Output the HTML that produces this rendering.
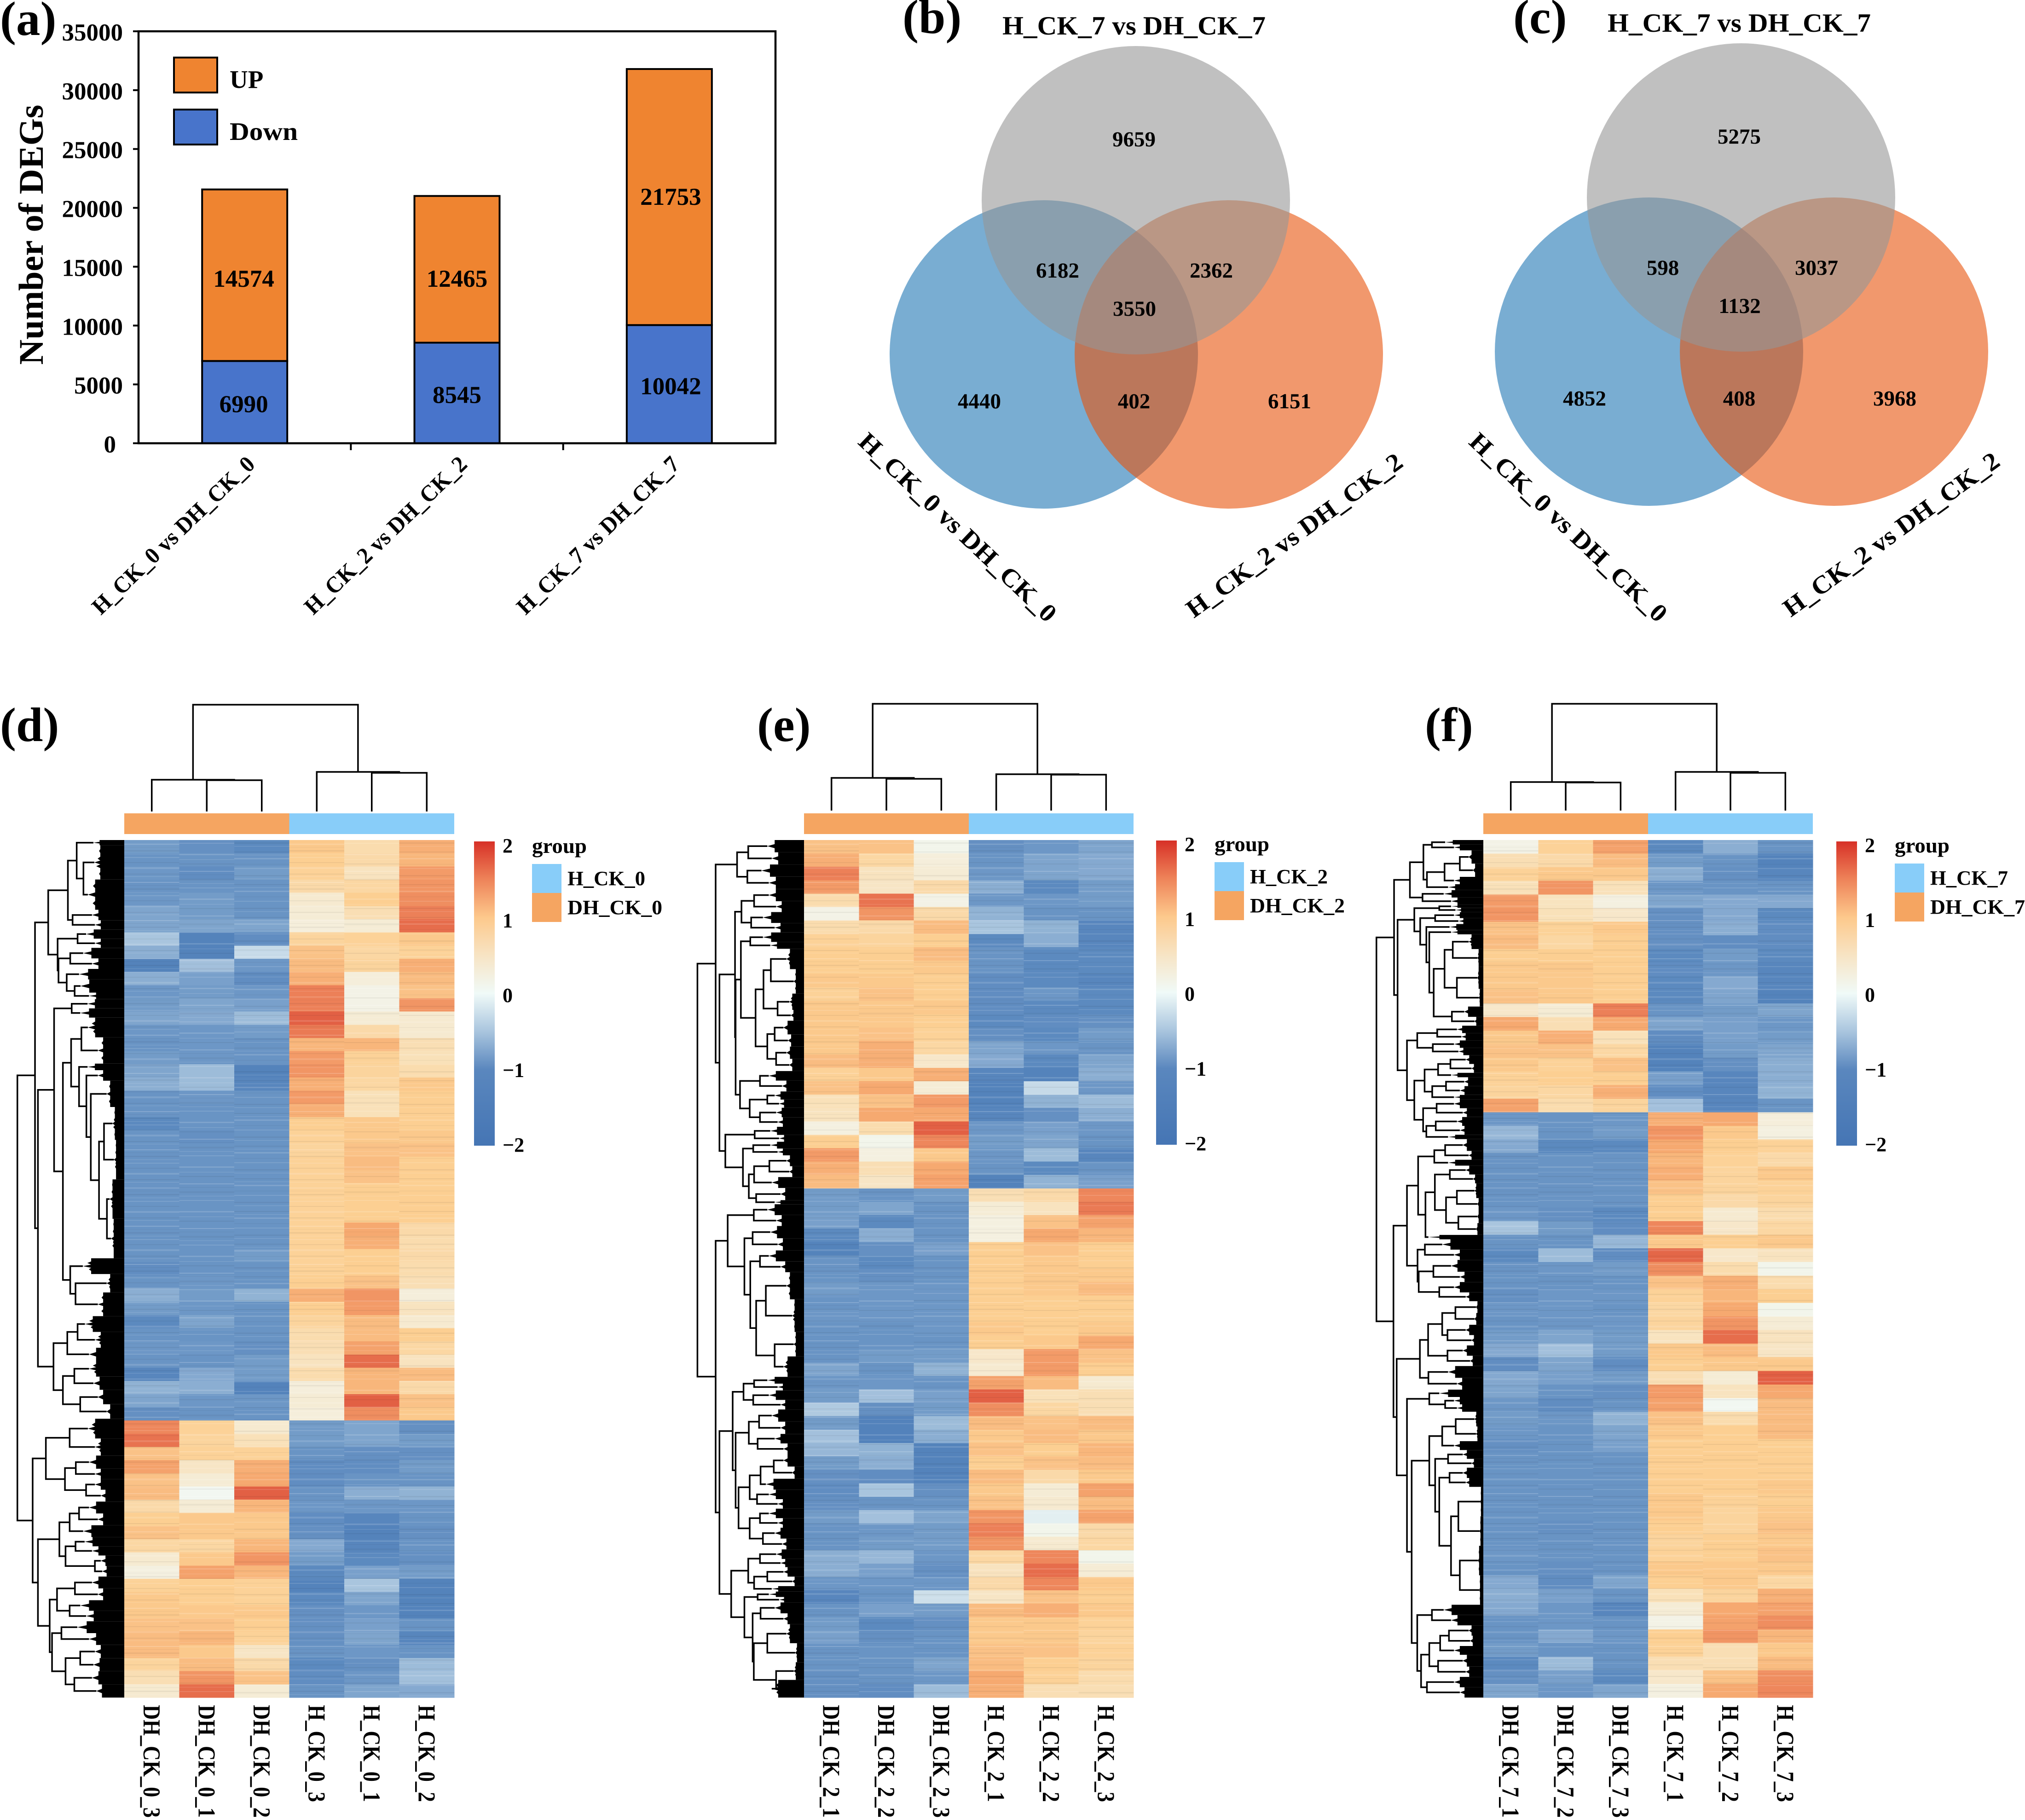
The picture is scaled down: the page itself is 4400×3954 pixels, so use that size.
<!DOCTYPE html>
<html lang="en">
<head>
<meta charset="utf-8">
<title>DEG bar chart, Venn diagrams and heatmaps</title>
<style>
html,body{margin:0;padding:0;background:#fff;}
svg{display:block;}
text{font-family:"Liberation Serif",serif;font-weight:bold;fill:#000;}
</style>
</head>
<body>
<svg id="figure" xmlns="http://www.w3.org/2000/svg" width="4400" height="3954" viewBox="0 0 4400 3954">
<defs>
<linearGradient id="cbar" x1="0" y1="0" x2="0" y2="1">
<stop offset="0" stop-color="#d73027"/><stop offset=".125" stop-color="#ee8359"/><stop offset=".25" stop-color="#fdc98c"/>
<stop offset=".375" stop-color="#f7e4c4"/><stop offset=".5" stop-color="#f0faf8"/><stop offset=".625" stop-color="#a9c5de"/>
<stop offset=".75" stop-color="#5a87be"/><stop offset="1" stop-color="#4575b4"/>
</linearGradient>
<pattern id="st0" width="10" height="83" patternUnits="userSpaceOnUse"><rect y="7" width="10" height="2" fill="#fff" opacity=".18"/><rect y="14" width="10" height="1" fill="#000" opacity=".05"/><rect y="21" width="10" height="3" fill="#000" opacity=".05"/><rect y="29" width="10" height="1" fill="#fff" opacity=".14"/><rect y="36" width="10" height="2" fill="#fff" opacity=".12"/><rect y="47" width="10" height="2" fill="#000" opacity=".05"/><rect y="58" width="10" height="4" fill="#fff" opacity=".12"/><rect y="72" width="10" height="2" fill="#000" opacity=".06"/><rect y="78" width="10" height="1" fill="#fff" opacity=".16"/></pattern>
<pattern id="st1" width="10" height="97" patternUnits="userSpaceOnUse"><rect y="12" width="10" height="3" fill="#fff" opacity=".14"/><rect y="24" width="10" height="1" fill="#fff" opacity=".16"/><rect y="33" width="10" height="2" fill="#000" opacity=".06"/><rect y="49" width="10" height="2" fill="#fff" opacity=".18"/><rect y="57" width="10" height="1" fill="#000" opacity=".06"/><rect y="66" width="10" height="4" fill="#000" opacity=".04"/><rect y="76" width="10" height="1" fill="#fff" opacity=".15"/><rect y="85" width="10" height="2" fill="#fff" opacity=".13"/></pattern>
<pattern id="st2" width="10" height="71" patternUnits="userSpaceOnUse"><rect y="4" width="10" height="2" fill="#000" opacity=".06"/><rect y="11" width="10" height="1" fill="#fff" opacity=".15"/><rect y="18" width="10" height="3" fill="#fff" opacity=".14"/><rect y="31" width="10" height="1" fill="#000" opacity=".06"/><rect y="40" width="10" height="2" fill="#fff" opacity=".12"/><rect y="55" width="10" height="3" fill="#000" opacity=".05"/><rect y="63" width="10" height="1" fill="#fff" opacity=".17"/></pattern>
</defs>
</svg>
<script>
// ---------- bar chart data ----------
const barCategories = ["H_CK_0 vs DH_CK_0", "H_CK_2 vs DH_CK_2", "H_CK_7 vs DH_CK_7"];
const upValues = [14574, 12465, 21753];
const downValues = [6990, 8545, 10042];
const yTickValues = [0, 5000, 10000, 15000, 20000, 25000, 30000, 35000];

// ---------- venn data: top, top+left, top+right, all, left, left+right, right ----------
const vennBCounts = [9659, 6182, 2362, 3550, 4440, 402, 6151];
const vennCCounts = [5275, 598, 3037, 1132, 4852, 408, 3968];

// ---------- heatmap (d) values, 65 rows ----------
const dColumns = ["DH_CK_0_3", "DH_CK_0_1", "DH_CK_0_2", "H_CK_0_3", "H_CK_0_1", "H_CK_0_2"];
const dV1 = [-.95,-1.05,-1,-1.05,-1,-.85,-.85,-.5,-.75,-1.3,-.75,-1,-.95,-.85,-1,-1.05,-.95,-.85,-.75,-1.05,-1.05,-1.2,-1.05,-1.05,-1.05,-1.05,-1.05,-1.05,-1.05,-1.05,-1.05,-1.05,-1.15,-1.05,-.75,-.95,-1.2,-1.05,-1,-1.05,-1.25,-.7,-.85,-1.1,1.45,1.6,1,1.25,1,1.05,.7,.9,1,.75,.35,.2,.85,.95,.95,1,1.05,1.05,.8,.6,.35];
const dV2 = [-1.1,-1.05,-1.15,-1.05,-.95,-.95,-.85,-1.3,-1.3,-.55,-.9,-.95,-.85,-.8,-1,-1,-1,-.6,-.6,-1,-1.05,-1.05,-1.1,-1.05,-1.05,-1.05,-1.05,-1.05,-1.05,-1.05,-1.05,-1.05,-1.05,-1,-.95,-1,-.85,-1.05,-1,-1.05,-.8,-.75,-1,-1.05,.85,.8,.85,.45,.3,.05,.3,.95,.95,.75,.95,1.25,.9,.9,.95,1,1.1,.95,1.05,1.35,1.65];
const dV3 = [-1.2,-1.05,-.95,-1.05,-1.05,-1.05,-.85,-1.15,-.3,-1,-1.15,-1,-.9,-.6,-.95,-1.05,-1.05,-1.3,-1.25,-1.05,-1.05,-1.05,-1.05,-1.05,-1.05,-1.05,-1.05,-1.05,-1.05,-1.05,-1.05,-.95,-1.05,-1.05,-.7,-1.05,-1.05,-1.05,-1.1,-.95,-.95,-1.3,-1,-1.05,.35,.55,.85,1.15,1.2,1.75,1.1,.95,.95,1.1,1.35,1.1,.85,.85,.95,.9,.85,.45,.7,1,.3];
const dV4 = [.95,.9,.85,.7,.35,.3,.25,.8,1,1.05,1.15,1.5,1.5,1.75,1.55,1.1,1.3,1.35,1.15,1.3,1.15,.9,.85,.8,.85,.85,.85,.85,.85,.85,.85,.85,.85,.9,1.15,.9,.8,.65,.6,.5,.65,.25,.3,.25,-.95,-.95,-1.05,-1.15,-1.15,-1.05,-1,-1.15,-1.1,-.8,-.95,-1.2,-1.3,-1.2,-1.1,-1.1,-1.1,-1.05,-1.2,-1.15,-1.05];
const dV5 = [.65,.7,.5,.75,.9,.6,.3,.85,.75,.8,.25,.15,.15,.3,.7,1.1,.85,.8,.75,.55,.55,.95,.95,1,1.05,1,.9,.9,.9,1.2,1.15,.9,.9,1,1.35,1.3,1.05,1.05,1.25,1.65,1.1,1.1,1.75,1.4,-.85,-.85,-1.1,-1.15,-1.05,-.75,-1,-1.25,-1.3,-1.25,-1.2,-.9,-.5,-.85,-1,-.9,-.85,-1,-1.1,-1,-.85];
const dV6 = [1.15,1.1,1.3,1.35,1.4,1.5,1.65,.95,.85,1.15,1.05,1,1.35,.35,.35,.6,.55,.65,.95,.9,.9,.9,.95,1,.9,.9,.9,.9,.9,.7,.65,.7,.65,.6,.25,.5,.35,.9,.75,.5,1.05,.7,1,.95,-1.1,-.95,-1.1,-.95,-1.05,-.7,-1,-1.05,-1.1,-1.05,-1.1,-.95,-1.3,-1.3,-1.3,-1.05,-1.25,-1.05,-.6,-.55,-.8];

// ---------- heatmap (e) values, 64 rows ----------
const eColumns = ["DH_CK_2_1", "DH_CK_2_2", "DH_CK_2_3", "H_CK_2_1", "H_CK_2_2", "H_CK_2_3"];
const eV1 = [1,1.15,1.5,1.3,.65,.15,.65,.85,.9,.9,.95,.85,.95,.95,.95,.95,1.05,.85,1,.55,.5,.2,.9,1.3,1.15,1.05,-.95,-.95,-.9,-1.2,-1.3,-1.05,-1.05,-.95,-1.05,-1,-1.05,-1.05,-1.05,-.85,-1,-.95,-.45,-.95,-.55,-.65,-.95,-1.1,-1.15,-1.1,-.95,-1.05,-1.05,-.75,-.75,-1,-1.25,-1.05,-.95,-.9,-1.05,-1.05,-1.1,-1.1];
const eV2 = [1,.75,.5,.45,1.6,1.35,.7,.8,.9,.9,.95,1,.95,.95,1,1.15,1.15,.95,1.2,1,1.2,.65,.1,.2,.6,.45,-1.05,-.85,-1.2,-.75,-1.1,-1.2,-1.1,-1,-1,-1,-1.05,-1.05,-.95,-1.05,-1,-.55,-1.1,-1.35,-1.35,-.7,-.75,-1.15,-.5,-1.05,-.55,-1,-.95,-.65,-.9,-1,-1.05,-.9,-1.2,-1.1,-1.05,-1.05,-1.05,-1.15];
const eV3 = [.1,.25,.3,.7,.15,.7,1.05,.9,1.05,.95,.9,.9,.95,.9,.85,.75,.4,1.15,.3,1.3,1.2,1.75,1.45,.95,1.2,1.25,-.95,-1.05,-1.05,-1.05,-.9,-1.05,-1.05,-1,-1,-1,-1,-1.05,-.95,-.7,-1.05,-.9,-.95,-.6,-.75,-1.3,-1.3,-1.3,-1.1,-1.05,-.85,-.95,-.95,-1,-1.1,-1,-.25,-.95,-1.1,-1.05,-1.05,-.85,-1,-.6];
const eV4 = [-1.1,-1.05,-1,-.75,-1,-.7,-.5,-1.2,-1.05,-1.05,-1.15,-1.15,-1.15,-1.2,-1.1,-.85,-.8,-1.25,-1.3,-1.3,-1.25,-1,-.95,-1,-1.05,-1.3,.6,.3,.2,.2,.9,.9,.9,.9,.9,.9,.95,.9,.4,.35,1.25,1.75,1.4,1.05,.95,1,.9,1.05,.95,1,1.35,1.5,1.35,.75,.5,.7,.45,1.05,.95,.95,1,1.05,1.2,1.15];
const eV5 = [-1,-.85,-.85,-1.2,-1,-1.05,-.7,-.75,-1.2,-1.2,-1.2,-1,-1.2,-1.15,-1.2,-1,-1.2,-1.3,-.3,-.7,-1.1,-.9,-.85,-.6,-1.2,-.7,.7,.5,1,1.2,1,.95,.95,.95,.9,.9,.9,.95,1.3,1.3,1.05,.55,.75,1,1.05,.9,1,.7,.3,.35,-.1,.1,.35,1.45,1.65,1.45,1,1.15,.95,.95,1,.9,.85,.6];
const eV6 = [-.85,-.8,-.8,-.95,-.95,-1.05,-1.25,-1.25,-1.2,-1.2,-1.25,-1.2,-1.2,-1.1,-.95,-1.05,-.85,-.75,-1,-.6,-.75,-1,-1.05,-1.25,-1.05,-.9,1.45,1.55,1.25,1.1,.9,.9,.95,1.05,.9,.9,.95,1.2,1,.9,.35,.6,.6,1.05,.95,1.1,1.05,.95,1.25,1.05,1.25,.7,.75,.1,.3,.95,.9,.95,.85,.8,.85,.8,.65,.6];

// ---------- heatmap (f) values, 63 rows ----------
const fColumns = ["DH_CK_7_1", "DH_CK_7_2", "DH_CK_7_3", "H_CK_7_1", "H_CK_7_2", "H_CK_7_3"];
const fV1 = [.15,.6,.85,.55,1.3,1.35,1,1.05,.9,.95,.95,1,.4,1.2,.95,1,.95,.85,.8,1.25,-1,-.65,-.8,-1.05,-1.05,-1.05,-1.05,-1,-.5,-1.05,-1.2,-1.05,-1.05,-1.1,-1,-1.05,-.95,-.8,-1.15,-.8,-.85,-1,-.95,-1,-1.1,-1.05,-1.05,-1.05,-1.05,-1.05,-1.05,-1.05,-1,-1.05,-.8,-.75,-.8,-1.05,-1.05,-.95,-1.2,-1.1,-.85];
const fV2 = [.85,.7,.95,1.35,.5,.55,.85,.75,.9,.95,.95,.95,.3,.6,1.15,1,.85,.9,.75,.65,-1.05,-1.05,-1.2,-1.05,-1.05,-1.05,-1.05,-1.1,-.95,-1.05,-.6,-1,-1.05,-1,-1,-1,-.85,-.55,-.85,-.9,-1.05,-1.15,-1,-1.05,-1.05,-1.05,-1.05,-1.05,-1.05,-1.05,-1.1,-1.05,-1.05,-1.1,-1.15,-.9,-1,-1,-.8,-1.05,-.6,-.9,-1];
const fV3 = [1.25,1.05,.95,.55,.2,.4,.95,.9,.9,.9,.9,.9,1.5,1.2,.55,.75,1,.9,1.15,.8,-1,-.95,-1.2,-1.05,-1.05,-1.05,-1.05,-1.2,-1.15,-.65,-1.15,-.95,-1.05,-1,-1.05,-1,-.95,-.95,-1.15,-.95,-1.1,-1.05,-.7,-.85,-.9,-1.05,-1.05,-1.05,-1.05,-1.05,-1.05,-1.05,-1.05,-1.05,-.85,-1.05,-1.25,-1.05,-1,-1.05,-1.05,-1.2,-.85];
const fV4 = [-1.2,-.95,-.75,-1,-.85,-1.1,-1.1,-1.1,-1.2,-1.15,-1.2,-1.2,-1.05,-.85,-1.15,-1.3,-1.3,-.9,-1.15,-.55,1.15,1.35,1.2,1.1,1.15,1,.9,.9,1.45,.95,1.7,1.4,1,.85,.75,.8,.5,.95,.9,.6,1.3,1.25,1,.95,.9,.9,.9,.9,.95,.95,.9,.8,.85,.95,.9,.55,.3,.15,.9,.85,.6,.4,.2];
const fV5 = [-.75,-1.05,-1.1,-1.05,-.8,-.8,-.75,-1.15,-.95,-1,-.8,-.85,-.95,-.9,-.9,-.95,-1.1,-1.25,-1.25,-1.25,1.2,.95,.9,.85,.8,.8,.7,.35,.4,.9,.4,.65,1.15,1.1,1.2,1.35,1.65,1.05,.95,.3,.5,.05,.65,.9,.9,.9,.9,.9,.85,.8,.8,.9,.9,.95,.95,.8,1.2,1.25,1.35,.6,.6,1,1.2];
const fV6 = [-1.05,-1.3,-1.25,-1.05,-.8,-1.2,-1.15,-1.15,-1.2,-1.25,-1.25,-1.3,-.85,-1,-.95,-.85,-.75,-.75,-.7,-1.05,.25,.2,.85,.7,.95,.85,.8,.65,.75,.95,.5,.1,.65,.9,.1,.3,.5,.45,.95,1.75,1.2,1.05,1.05,1.05,.9,.9,.9,.95,.9,.95,1,.95,1,.95,.75,1.15,1.25,1.4,1.1,.95,1.05,1.4,1.45];

const colorbarTicks = [2, 1, 0, -1, -2];

// ---------- column dendrograms: [height, a, b], leaf = column index ----------
const dTopTree = [232, [69, 0, [68, 1, 2]], [86, 3, [84, 4, 5]]];
const eTopTree = [232, [71, 0, [69, 1, 2]], [79, 3, [78, 4, 5]]];
const fTopTree = [232, [62, 0, [61, 1, 2]], [84, 3, [82, 4, 5]]];

// ---------- row dendrograms: node [height, a, b], leaf [height, weight] ----------
const dRowTree = [364,
  [304,
    [259,
      [192,
        [162, [105, .4], [139, [102, 2.6], [124, 2.3]]],
        [176, [110, .8], [100, .7]]
      ],
      [227,
        [159, [130, .7], [100, .7]],
        [224,
          [184, [140, .8], [110, .8]],
          [196, [154, .8], [169, [149, 1], [120, .5]]]
        ]
      ]
    ],
    [294,
      [239,
        [179, [125, .7], [150, .7]],
        [209,
          [181,
            [146, [124, 1.5], [90, 2]],
            [154, [125, .5], [129, [90, .8], [114, [60, 2], [86, [69, [40, 2.5], [35, 3]], [59, [50, 3], [45, 3]]]]]]
          ],
          [184, [141, 1.2], [166, [60, 1.4], [90, 1.8]]]
        ]
      ],
      [241,
        [194, [159, [134, 1.2], [100, 1.2]], [120, 1]],
        [209, [170, [120, 1.2], [105, 1]], [150, [90, 1.1], [60, 1.1]]]
      ]
    ]
  ],
  [312,
    [267, [186, [124, 1.5], [100, 1.3]], [202, [165, [120, 1], [100, .8]], [130, [100, .8], [80, .9]]]],
    [294,
      [221, [186, [154, [120, .9], [90, .9]], [140, .9]], [200, [166, [135, .7], [110, .7]], [100, [80, .8], [75, .8]]]],
      [254,
        [229, [168, [110, .9], [90, .9]], [186, [150, .8], [130, .8]]],
        [246, [214, [160, .9], [120, .9]], [200, [150, [100, 1], [105, 1]], [170, [110, 1], [95, 1]]]]
      ]
    ]
  ]
];
const eRowTree = [363,
  [301,
    [228, [190, [125, .9], [110, .9]], [193, [145, .9], [120, .9]]],
    [288,
      [235,
        [213, [170, [120, .9], [95, .8]], [180, [140, .8], [100, .7]]],
        [233,
          [215,
            [183, [140, .7], [115, .5]],
            [165,
              [138, [113, [60, 1.5], [35, 1.8]], [90, [50, 1.2], [45, .8]]],
              [125, [100, [70, 1], [55, .9]], [95, [60, .9], [50, .9]]]
            ]
          ],
          [218, [150, [120, .7], [75, .8]], [185, [125, [100, .6], [85, .6]], [150, [95, .7], [90, .7]]]]
        ]
      ],
      [268,
        [168, [115, .6], [85, .5]],
        [208, [173, [115, .5], [90, .5]], [188, [170, [118, [60, .8], [50, .8]], [110, .8]], [163, [80, .9], [100, .3]]]]
      ]
    ]
  ],
  [301,
    [260,
      [171, [125, .8], [95, .8]],
      [203,
        [175, [115, .9], [90, .9]],
        [183, [150, [120, .8], [80, .8]], [163, [130, [60, 2], [40, 2.4]], [100, [35, 1.8], [70, 1.5]]]]
      ]
    ],
    [288,
      [243,
        [206, [170, [125, .5], [90, .5]], [173, [120, .7], [80, .7]]],
        [233,
          [188, [153, [110, .9], [80, .9]], [158, [100, .7], [70, .8]]],
          [223,
            [185, [148, [103, [70, .9], [40, .9]], [130, .8]], [160, [120, .7], [90, .7]]],
            [185, [150, [120, .7], [90, .7]], [140, [100, .8], [75, .8]]]
          ]
        ]
      ],
      [248,
        [190, [150, [95, .7], [80, .6]], [170, [125, [70, .7], [40, .7]], [110, .4]]],
        [203,
          [158, [120, .4], [85, .4]],
          [175, [148, [100, .8], [70, .8]], [171, [125, [60, 1.4], [30, 1.4]], [95, [35, 1.3], [110, 1.3]]]]
        ]
      ]
    ]
  ]
];
const fRowTree = [364,
  [304,
    [250,
      [204, [175, [130, .3], [100, .4]], [192, [132, [80, [50, .9], [35, .9]], [100, .5]], [120, .4]]],
      [207, [135, .5], [110, .5]]
    ],
    [292,
      [235,
        [150, [110, .2], [95, .3]],
        [215,
          [164, [100, .4], [85, .4]],
          [194, [115, .4], [184, [110, .3], [169, [132, [104, [50, 1], [20, 1.2]], [90, [20, 1.5], [15, 1.2]]], [107, [65, .7], [30, .6]]]]]
        ]
      ],
      [260,
        [225, [157, [90, .5], [75, .5]], [172, [100, .5], [85, .5]]],
        [235,
          [200, [154, [112, [60, .6], [40, .6]], [110, .3]], [174, [127, [65, .6], [80, .6]], [100, .3]]],
          [205, [159, [100, .6], [70, .6]], [194, [162, [90, .6], [80, .6]], [120, .3]]]
        ]
      ]
    ]
  ],
  [306,
    [260,
      [222,
        [167, [130, [70, .8], [50, .6]], [120, .4]],
        [197, [165, [114, [60, .6], [35, .6]], [127, [90, [30, 1], [20, .8]], [85, [20, .9], [25, .8]]]], [187, .3]]
      ],
      [224, [199, [140, .7], [100, .7]], [220, [170, [110, .8], [80, .7]], [150, [100, .7], [60, .6]]]]
    ],
    [295,
      [216,
        [188, [140, [95, [25, .8], [30, .8]], [122, [60, .7], [40, .7]]], [122, [70, .7], [45, .7]]],
        [187, [120, .8], [90, .8]]
      ],
      [260,
        [184, [150, .5], [130, [100, .5], [90, .5]]],
        [244,
          [184,
            [140, [94, [30, 1], [25, 1]], [100, .6]],
            [164, [120, [70, .6], [40, .6]], [150, [115, [70, .7], [60, .6]], [110, [85, [10, 2], [12, 2]], [80, [18, 2], [14, 2]]]]]
          ],
          [225,
            [175, [135, .7], [110, .7]],
            [212, [184, [147, [117, [50, .7], [45, .7]], [100, .6]], [154, [70, .8], [60, .7]]], [192, [100, .7], [80, .7]]]
          ]
        ]
      ]
    ]
  ]
];

// ---------- helpers ----------
const NS = "http://www.w3.org/2000/svg";
const root = document.getElementById("figure");
function make(tag, parent, attrs) {
  const el = document.createElementNS(NS, tag);
  for (const k in attrs) el.setAttribute(k, attrs[k]);
  parent.appendChild(el);
  return el;
}
function makeText(parent, str, x, y, size, anchor, len, transform) {
  const attrs = { x: x, y: y, "font-size": size, "text-anchor": anchor || "start" };
  if (len) { attrs.textLength = len; attrs.lengthAdjust = "spacingAndGlyphs"; }
  if (transform) attrs.transform = transform;
  const el = make("text", parent, attrs);
  el.textContent = str;
  return el;
}
function makeGroup(parent) { return make("g", parent, {}); }
const colorStops = [[-2,[69,117,180]],[-1.3,[84,131,187]],[-1,[109,151,198]],[-.5,[169,197,222]],[0,[241,249,246]],[.5,[248,227,191]],[.9,[252,207,146]],[1.2,[246,169,112]],[1.5,[236,128,88]],[1.8,[224,90,64]],[2,[215,48,39]]];
function heatColor(v) {
  v = Math.max(-2, Math.min(2, v));
  for (let i = 1; i < colorStops.length; i++) {
    if (v <= colorStops[i][0]) {
      const a = colorStops[i - 1], b = colorStops[i], t = (v - a[0]) / (b[0] - a[0]);
      const c = a[1].map((p, n) => Math.round(p + (b[1][n] - p) * t));
      return "rgb(" + c.join(",") + ")";
    }
  }
  return "rgb(215,48,39)";
}

// ---------- panel letters ----------
[["(a)", 0, 76], ["(b)", 1961, 72], ["(c)", 3288, 72], ["(d)", 0, 1610], ["(e)", 1645, 1610], ["(f)", 3096, 1610]].forEach(function (p) {
  const t = makeText(root, p[0], p[1], p[2], 105);
  
  
});

// ---------- panel a: stacked bars ----------
(function () {
  const g = makeGroup(root);
  
  
  const L = 301, R = 1685, T = 68, B = 963, YMAX = 35000;
  const yScale = function (v) { return B - v / YMAX * (B - T); };
  const bandW = (R - L) / barCategories.length;
  const xCenter = function (i) { return L + bandW * (i + .5); };
  const barW = 185;
  const upShift = [7, 20, -1];
  const labelShiftX = [-2, 0, 3];

  barCategories.forEach(function (cat, i) {
    const x = xCenter(i) - barW / 2;
    const down = make("rect", g, { x: x, y: yScale(downValues[i]), width: barW, height: B - yScale(downValues[i]), fill: "#4874cb", stroke: "#000", "stroke-width": 4 });
    
    
    const total = downValues[i] + upValues[i];
    const up = make("rect", g, { x: x, y: yScale(total), width: barW, height: yScale(downValues[i]) - yScale(total), fill: "#ef8430", stroke: "#000", "stroke-width": 4 });
    
    
    const dl = makeText(g, String(downValues[i]), xCenter(i) + labelShiftX[i], yScale(downValues[i] / 2) + 22, 53, "middle");
    
    
    const ul = makeText(g, String(upValues[i]), xCenter(i) + labelShiftX[i], yScale(downValues[i] + upValues[i] / 2) + 18 + upShift[i], 53, "middle");
    
    
    const ex = xCenter(i) + 25, ey = 1012;
    const cl = makeText(g, cat, ex, ey, 50, "end", 469, "rotate(-44 " + ex + " " + ey + ")");
    
    
    if (i > 0) {
      const tick = make("line", g, { x1: L + bandW * i, x2: L + bandW * i, y1: B, y2: B + 15, stroke: "#000", "stroke-width": 4 });
      
      
    }
  });
  const frame = make("rect", g, { x: L, y: T, width: R - L, height: B - T, fill: "none", stroke: "#000", "stroke-width": 4.5 });
  
  
  yTickValues.forEach(function (v) {
    const tick = make("line", g, { x1: L - 12, x2: L, y1: yScale(v), y2: yScale(v), stroke: "#000", "stroke-width": 4 });
    
    
    const lab = makeText(g, String(v), v === 0 ? 252 : 267, yScale(v) + 20, 53, "end");
    
    
  });
  const yTitle = makeText(g, "Number of DEGs", 93, 510, 75, "middle", 565, "rotate(-90 93 510)");
  
  
  const s1 = make("rect", g, { x: 378, y: 125, width: 94, height: 76, fill: "#ef8430", stroke: "#000", "stroke-width": 4 });
  
  
  const s2 = make("rect", g, { x: 378, y: 238, width: 94, height: 76, fill: "#4874cb", stroke: "#000", "stroke-width": 4 });
  
  
  const l1 = makeText(g, "UP", 499, 191, 55);
  
  
  const l2 = makeText(g, "Down", 499, 304, 55, "start", 148);
  
  
})();

// ---------- panels b, c: venn ----------
function drawVenn(cx, cy, counts, leftStart, leftAngle, rightStart, rightAngle) {
  const g = makeGroup(root);
  
  
  const r = 335;
  const blue = make("circle", g, { cx: cx - 200, cy: cy + 335, r: r, fill: "rgb(31,119,180)", "fill-opacity": .6 });
  
  
  const orange = make("circle", g, { cx: cx + 202, cy: cy + 335, r: r, fill: "rgb(232,83,12)", "fill-opacity": .6 });
  
  
  const grey = make("circle", g, { cx: cx, cy: cy, r: r, fill: "rgb(150,150,150)", "fill-opacity": .6 });
  
  
  const offsets = [[-4, -133], [-170, 152], [164, 152], [-3, 235], [-340, 436], [-4, 436], [334, 436]];
  counts.forEach(function (c, i) {
    const t = makeText(g, String(c), cx + offsets[i][0], cy + offsets[i][1] + 16, 47, "middle");
    
    
  });
  const title = makeText(g, "H_CK_7 vs DH_CK_7", cx - 4, cy - 360, 57, "middle", 572);
  
  
  const lt = makeText(g, "H_CK_0 vs DH_CK_0", leftStart[0], leftStart[1], 55, "start", 569, "rotate(" + leftAngle + " " + leftStart[0] + " " + leftStart[1] + ")");
  
  
  const rt = makeText(g, "H_CK_2 vs DH_CK_2", rightStart[0], rightStart[1], 55, "start", 566, "rotate(" + rightAngle + " " + rightStart[0] + " " + rightStart[1] + ")");
  
  
}
drawVenn(2468, 435, vennBCounts, [1862, 963], 43.5, [2594, 1344], -36);
drawVenn(3783, 429, vennCCounts, [3189, 963], 43.5, [3891, 1342], -36);

// ---------- panels d, e, f: heatmaps ----------
function drawRowTree(g, tree, left, top, height) {
  const k = 0.638;
  const toothDepth = [.88, .97, .84, .93, .82, .98];
  function totalW(n) { return typeof n[1] === "number" ? n[1] : totalW(n[1]) + totalW(n[2]); }
  const unit = height / totalW(tree);
  let cursor = top, d = "";
  function walk(n) {
    const x = left - n[0] * k;
    if (typeof n[1] === "number") {
      const y0 = cursor, y1 = cursor + n[1] * unit;
      cursor = y1;
      let teeth = Math.max(3, Math.round((y1 - y0) / 9));
      if (teeth % 2 === 0) teeth += 1;
      const tw = (y1 - y0) / teeth;
      const depth = n[0] * k, base = depth * .8;
      let pts = left + "," + y0;
      for (let t = 0; t < teeth; t++) {
        const center = t === (teeth - 1) / 2;
        const env = 1 - Math.abs((t + .5) / teeth * 2 - 1) * .2;
        const dep = center ? depth : Math.max(base, depth * env * toothDepth[t % 6]);
        pts += " " + (left - base) + "," + (y0 + tw * t);
        pts += " " + (left - dep) + "," + (y0 + tw * (t + .5));
        pts += " " + (left - base) + "," + (y0 + tw * (t + 1));
      }
      pts += " " + left + "," + y1;
      const fan = make("polygon", g, { points: pts, fill: "#000" });
      
      
      return { x: x, y: (y0 + y1) / 2 };
    }
    const a = walk(n[1]), b = walk(n[2]);
    d += "M" + a.x + " " + a.y + "H" + x + "V" + b.y + "H" + b.x;
    return { x: x, y: (a.y + b.y) / 2 };
  }
  walk(tree);
  const path = make("path", g, { d: d, fill: "none", stroke: "#000", "stroke-width": 3.5 });
  
  
}
function drawTopTree(g, tree, xOf, bottom) {
  let d = "";
  function walk(n) {
    if (typeof n === "number") return { x: xOf(n), y: bottom };
    const a = walk(n[1]), b = walk(n[2]), y = bottom - n[0];
    d += "M" + a.x + " " + a.y + "V" + y + "H" + b.x + "V" + b.y;
    return { x: (a.x + b.x) / 2, y: y };
  }
  walk(tree);
  const path = make("path", g, { d: d, fill: "none", stroke: "#000", "stroke-width": 3.5 });
  
  
}
function drawHeatmap(o) {
  const g = makeGroup(root);
  
  
  const top = 1825, bottom = 3688, nRows = o.values[0].length;
  const colW = (o.right - o.left) / 6, rowH = (bottom - top) / nRows;
  const xOf = function (j) { return o.left + colW * j; };
  const yOf = function (i) { return top + rowH * i; };

  o.values.forEach(function (col, j) {
    col.forEach(function (v, i) {
      const cell = make("rect", g, { x: xOf(j), y: yOf(i), width: colW + .5, height: rowH + .5, fill: heatColor(v), "shape-rendering": "crispEdges" });
      
      
    });
    const tex = make("rect", g, { x: xOf(j), y: top, width: colW, height: bottom - top, fill: "url(#st" + (j % 3) + ")" });
    
    
    const isH = j > 2;
    const name = makeText(g, o.columns[j], xOf(j) + colW / 2 - 18, 3704, 53, "start", isH ? 211 : 245, "rotate(90 " + (xOf(j) + colW / 2 - 18) + " 3704)");
    
    
  });

  const a1 = make("rect", g, { x: o.left, y: 1767, width: colW * 3, height: 45, fill: "#f5a561" });
  
  
  const a2 = make("rect", g, { x: o.left + colW * 3, y: 1767, width: colW * 3, height: 45, fill: "#88cdf9" });
  
  

  drawTopTree(g, o.topTree, function (j) { return xOf(j) + colW / 2; }, o.topBottom);
  drawRowTree(g, o.rowTree, o.left, top, bottom - top);

  const cb = make("rect", g, { x: o.cbarX, y: o.cbarTop, width: 45, height: 661, fill: "url(#cbar)" });
  
  
  colorbarTicks.forEach(function (v) {
    const y = o.tick0 - v * 162.5;
    const t = makeText(g, (v < 0 ? "\u2212" : "") + Math.abs(v), o.cbarX + 62, y + 15, 44);
    
    
  });
  const gt = makeText(g, "group", o.legX, o.legY - 24, 46, "start", 119);
  
  
  const sw1 = make("rect", g, { x: o.legX, y: o.legY, width: 64, height: 63, fill: "#88cdf9" });
  
  
  const sw2 = make("rect", g, { x: o.legX, y: o.legY + 63, width: 64, height: 63, fill: "#f5a561" });
  
  
  const l1 = makeText(g, o.legend[0], o.legX + 77, o.legY + 46, 44, "start", 169);
  
  
  const l2 = makeText(g, o.legend[1], o.legX + 77, o.legY + 109, 44, "start", 206);
  
  
}
drawHeatmap({ left: 270, right: 987, columns: dColumns, values: [dV1, dV2, dV3, dV4, dV5, dV6], topTree: dTopTree, topBottom: 1763, rowTree: dRowTree, cbarX: 1030, cbarTop: 1828, tick0: 2162, legX: 1156, legY: 1877, legend: ["H_CK_0", "DH_CK_0"] });
drawHeatmap({ left: 1747, right: 2463, columns: eColumns, values: [eV1, eV2, eV3, eV4, eV5, eV6], topTree: eTopTree, topBottom: 1761, rowTree: eRowTree, cbarX: 2512, cbarTop: 1826, tick0: 2159, legX: 2639, legY: 1873, legend: ["H_CK_2", "DH_CK_2"] });
drawHeatmap({ left: 3223, right: 3939, columns: fColumns, values: [fV1, fV2, fV3, fV4, fV5, fV6], topTree: fTopTree, topBottom: 1761, rowTree: fRowTree, cbarX: 3990, cbarTop: 1828, tick0: 2161, legX: 4117, legY: 1876, legend: ["H_CK_7", "DH_CK_7"] });
</script>
</body>
</html>
